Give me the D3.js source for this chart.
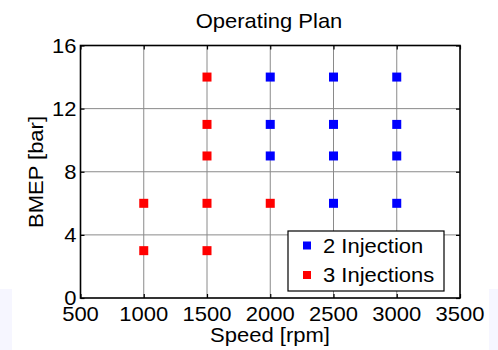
<!DOCTYPE html>
<html><head><meta charset="utf-8">
<script src="https://cdn.jsdelivr.net/npm/d3@7"></script>
<style>body{margin:0;background:#fff}svg{display:block}text{font-family:"Liberation Sans",Arial,sans-serif;fill:#000}</style>
</head><body><svg id="c" width="498" height="350"></svg>
<script>
const xTicks = [500,1000,1500,2000,2500,3000,3500];
const yTicks = [0,4,8,12,16];
const series = ["2 Injection","3 Injections"];
const colors = ["#0000ff","#ff0000"];
const twoSpeed = [2000,2500,3000,2000,2500,3000,2000,2500,3000,2500,3000];
const twoBmep  = [14,14,14,11,11,11,9,9,9,6,6];
const threeSpeed = [1500,1500,1500,1000,1500,2000,1000,1500];
const threeBmep  = [14,11,9,6,6,6,3,3];

const svg = d3.select("#c");
const L=80.5,R=460,T=45.5,B=298;
const x = d3.scaleLinear().domain([500,3500]).range([L,R]);
const y = d3.scaleLinear().domain([0,16]).range([B,T]);
const SX = 1.1;
function txt(g,xp,yp,s,anchor,size,rot){
  const t = g.append("text").attr("transform",`translate(${xp},${yp})`+(rot?` rotate(${rot})`:"")+` scale(${SX},1)`)
    .attr("text-anchor",anchor).style("font-size",size+"px").text(s);
  return t;
}
// light background bands
svg.append("rect").attr("x",0).attr("y",289).attr("width",12).attr("height",61).attr("fill","#f6f6ff");
svg.append("rect").attr("x",489).attr("y",289).attr("width",9).attr("height",61).attr("fill","#f6f6ff");
// grid
const grid = svg.append("g").attr("stroke","#8a8a8a").attr("stroke-width",1);
xTicks.slice(1,-1).forEach(v=>grid.append("line").attr("x1",x(v)).attr("x2",x(v)).attr("y1",T).attr("y2",B));
yTicks.slice(1,-1).forEach(v=>grid.append("line").attr("y1",y(v)).attr("y2",y(v)).attr("x1",L).attr("x2",R));
// axes with inward ticks via d3 axis
const ax = svg.append("g").attr("transform",`translate(0,${B})`).call(d3.axisBottom(x).tickValues(xTicks).tickSize(-4).tickFormat(""));
const axT = svg.append("g").attr("transform",`translate(0,${T})`).call(d3.axisTop(x).tickValues(xTicks).tickSize(-4).tickFormat(""));
const ay = svg.append("g").attr("transform",`translate(${L},0)`).call(d3.axisLeft(y).tickValues(yTicks).tickSize(-4).tickFormat(""));
const ayR = svg.append("g").attr("transform",`translate(${R},0)`).call(d3.axisRight(y).tickValues(yTicks).tickSize(-4).tickFormat(""));
[ax,axT,ay,ayR].forEach(g=>{g.selectAll("path").remove();g.selectAll("line").attr("stroke","#000").attr("stroke-width",1.2);});
svg.append("rect").attr("x",L).attr("y",T).attr("width",R-L).attr("height",B-T).attr("fill","none").attr("stroke","#000").attr("stroke-width",1.6);
// tick labels
const lab = svg.append("g");
xTicks.forEach(v=>txt(lab,x(v),320.5,String(v),"middle",20));
yTicks.forEach(v=>txt(lab,L-4,y(v)+7,String(v),"end",20));
// points
const S=9;
function pts(xs,ys,c){
  svg.append("g").selectAll("rect").data(xs.map((d,i)=>[d,ys[i]])).join("rect")
    .attr("x",d=>x(d[0])-S/2).attr("y",d=>y(d[1])-S/2).attr("width",S).attr("height",S).attr("fill",c);
}
pts(twoSpeed,twoBmep,colors[0]);
pts(threeSpeed,threeBmep,colors[1]);
// title and axis labels
txt(svg,269,28,"Operating Plan","middle",20);
txt(svg,270,342,"Speed [rpm]","middle",20);
svg.append("text").attr("transform",`translate(43,172) rotate(-90) scale(${SX},1)`).attr("text-anchor","middle").style("font-size","20px").text("BMEP [bar]");
// legend
const lg = svg.append("g");
lg.append("rect").attr("x",288).attr("y",231).attr("width",156).attr("height",60).attr("fill","#fff").attr("stroke","#000").attr("stroke-width",1.2);
series.forEach((s,i)=>{
  const yy = 245.5 + i*29.5;
  lg.append("rect").attr("x",303).attr("y",yy-4).attr("width",8).attr("height",8).attr("fill",colors[i]);
  txt(lg,323,yy+7,s,"start",20);
});
</script></body></html>
